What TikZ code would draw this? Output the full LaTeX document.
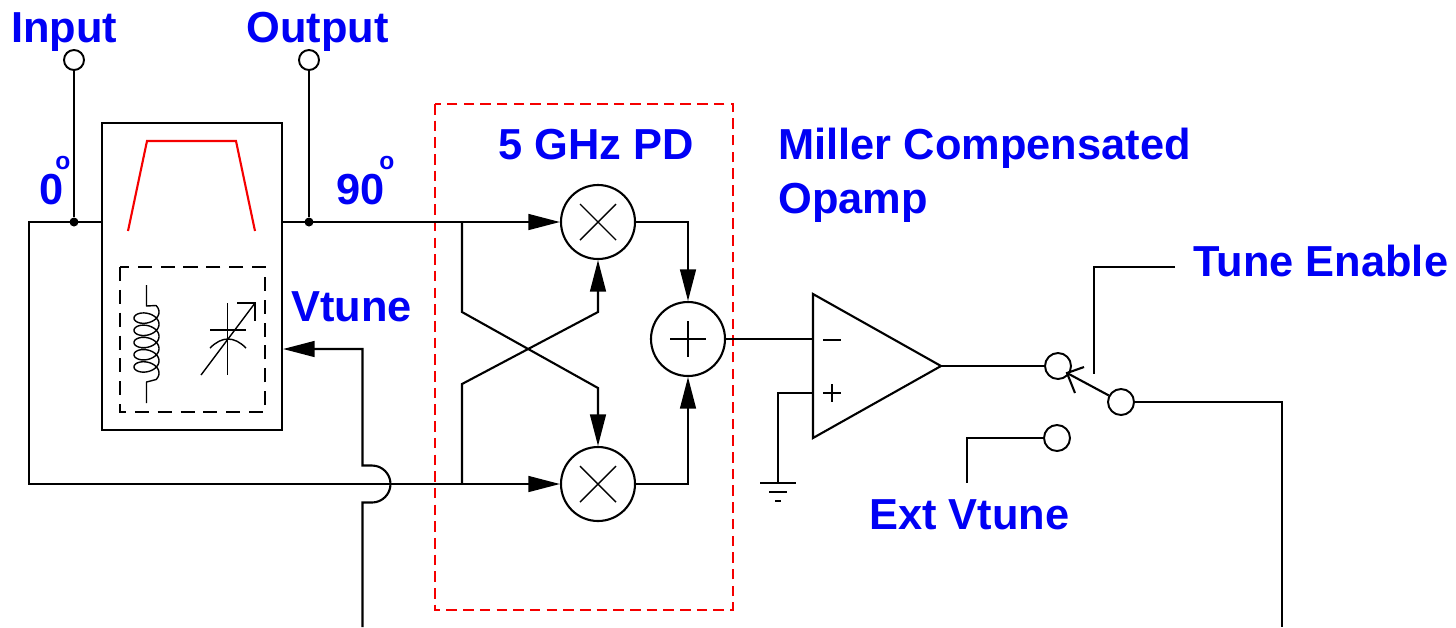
\documentclass[tikz,border=0pt]{standalone}
\usepackage{fontspec}
\setmainfont{Liberation Sans}
\usetikzlibrary{
    arrows.meta,
    shapes.geometric,
    positioning
}
\definecolor{labelblue}{RGB}{0,0,245}
\definecolor{markred}{RGB}{245,0,0}
\tikzset{
    wire/.style={line width=1.2pt, line join=miter},
    thinwire/.style={line width=0.8pt},
    sig/.style={wire, -{Triangle[length=18pt,width=9pt]}},
    lbl/.style={font=\fontsize{24.7}{28}\selectfont\bfseries, labelblue, anchor=base west, inner sep=0pt},
    deg/.style={font=\fontsize{14}{16}\selectfont\bfseries, labelblue, inner sep=0pt},
    pin/.style={circle, draw, line width=1.1pt, fill=white, minimum size=20*0.02cm, inner sep=0pt},
    swpin/.style={circle, draw, line width=1.1pt, fill=white, minimum size=26*0.02cm, inner sep=0pt},
    dot/.style={circle, fill=black, minimum size=9*0.02cm, inner sep=0pt},
    block/.style={circle, draw, line width=1.2pt, minimum size=74*0.02cm, inner sep=0pt}
}
\begin{document}
\begin{tikzpicture}[x=0.02cm, y=-0.02cm]
    \useasboundingbox (0,0) rectangle (1456,627);

    % === Resonator ===
    \node[draw, wire, minimum width=180*0.02cm, minimum height=307*0.02cm, inner sep=0pt] (tank) at (192,276.5) {};
    \draw[markred, wire] (128,231) -- (147,141) -- (236,141) -- (255,231);
    \draw[line width=1pt, dash pattern=on 8pt off 5pt] (120,267) rectangle (265,412);

    % Inductor
    \draw[thinwire, line join=round] (146.5,285) -- (146.5,306)
        -- plot[domain=-40:1840, samples=240] ({146.5+12.5*cos(\x)},{312+0.0339*\x+8*sin(\x)})
        -- (146.5,382) -- (146.5,403);

    % Varactor
    \draw[thinwire] (227.5,303) -- (227.5,375);
    \draw[thinwire] (210,330) -- (246,330);
    \draw[thinwire] (210,348) .. controls (216,342) and (222,339) .. (228,339)
        .. controls (234,339) and (240,342) .. (246,348);
    \draw[thinwire] (201,375) -- (255,303);
    \draw[thinwire] (237,303) -- (255,303) -- (255,321);

    % === Ports ===
    \node[pin] (input) at (74,60) {};
    \node[pin] (output) at (309,60) {};
    \node[dot] (dotI) at (74,222) {};
    \node[dot] (dotQ) at (309,222) {};
    \draw[wire] (input) -- (dotI);
    \draw[wire] (output) -- (dotQ);

    % === Phase detector ===
    \draw[markred, line width=0.9pt, dash pattern=on 6pt off 3.5pt] (435,104) rectangle (733,610);
    \node[block] (mixT) at (598,222) {};
    \node[block] (mixB) at (598,484) {};
    \node[block] (adder) at (688,339) {};
    \draw[thinwire] ([shift={(-18,-18)}]mixT.center) -- ([shift={(18,18)}]mixT.center);
    \draw[thinwire] ([shift={(-18,18)}]mixT.center) -- ([shift={(18,-18)}]mixT.center);
    \draw[thinwire] ([shift={(-18,-18)}]mixB.center) -- ([shift={(18,18)}]mixB.center);
    \draw[thinwire] ([shift={(-18,18)}]mixB.center) -- ([shift={(18,-18)}]mixB.center);
    \draw[thinwire] ([shift={(-18,0)}]adder.center) -- ([shift={(18,0)}]adder.center);
    \draw[thinwire] ([shift={(0,-18)}]adder.center) -- ([shift={(0,18)}]adder.center);

    \coordinate (tapT) at (462,222);
    \coordinate (tapB) at (462,484);
    \coordinate (leftT) at (29,222);
    \coordinate (leftB) at (29,484);

    \draw[sig] (tank.east |- tapT) -- (mixT.west);
    \draw[wire] (tank.west |- tapT) -- (leftT) -- (leftB) -- (tapB);
    \draw[sig] (tapB) -- (mixB.west);
    \draw[sig] (tapT) -- (462,312) -- (598,388) -- (mixB.north);
    \draw[sig] (tapB) -- (462,384) -- (598,312) -- (mixT.south);
    \draw[sig] (mixT.east) -- (688,222) -- (adder.north);
    \draw[sig] (mixB.east) -- (688,484) -- (adder.south);

    % === Opamp ===
    \coordinate (opA) at (813,294);
    \coordinate (opB) at (813,438);
    \coordinate (opOut) at (941,366);
    \draw[wire] (opA) -- (opOut) -- (opB) -- cycle;
    \draw[wire] (adder.east) -- (opA |- adder.east);
    \draw[thinwire] (823,340) -- (841,340);
    \draw[thinwire] (823,393) -- (841,393);
    \draw[thinwire] (832,384) -- (832,402);

    % Ground
    \coordinate (gnd) at (778,483);
    \draw[wire] (813,393) -- (778,393) -- (gnd);
    \draw[thinwire] (760,483) -- (796,483);
    \draw[thinwire] (769,492) -- (787,492);
    \draw[thinwire] (775,501) -- (781,501);

    % === Tune switch ===
    \node[swpin] (swA) at (1058,366) {};
    \node[swpin] (swB) at (1121,402) {};
    \node[swpin] (swExt) at (1057,438) {};
    \draw[wire] (opOut) -- (swA);
    \draw[wire] (swB) -- (1067,373);
    \draw[wire] (1084,367) -- (1067,373) -- (1075,393);
    \draw[wire] (1175,267) -- (1094,267) -- (1094,374);
    \draw[wire] (swExt) -- (967,438) -- (967,483);
    \draw[wire] (swB) -- (1282,402) -- (1282,627);

    % Feedback into Vtune
    \draw[sig] (362.5,627) -- (362.5,502.5) -- (372,502.5)
        .. controls (382.2,502.5) and (390.5,494.2) .. (390.5,484)
        .. controls (390.5,473.8) and (382.2,465.5) .. (372,465.5)
        -- (362.5,465.5) -- (362.5,349) -- (tank.east |- 0,349);

    % === Labels ===
    \node[lbl] (inputLbl) at (11,42) {Input};
    \node[lbl] (outputLbl) at (246,42) {Output};
    \node[lbl] (zeroLbl) at (39,204) {0};
    \node[deg] (zeroDeg) at (63,163) {o};
    \node[lbl] (ninetyLbl) at (336,204) {90};
    \node[deg] (ninetyDeg) at (387,163) {o};
    \node[lbl] (pdLbl) at (498,159) {5 GHz PD};
    \node[lbl] (millerLbl) at (778,159) {Miller Compensated};
    \node[lbl] (opampLbl) at (778,213) {Opamp};
    \node[lbl] (vtuneLbl) at (291,321) {Vtune};
    \node[lbl] (tuneLbl) at (1193,276) {Tune Enable};
    \node[lbl] (extLbl) at (869,529) {Ext Vtune};
\end{tikzpicture}
\end{document}
